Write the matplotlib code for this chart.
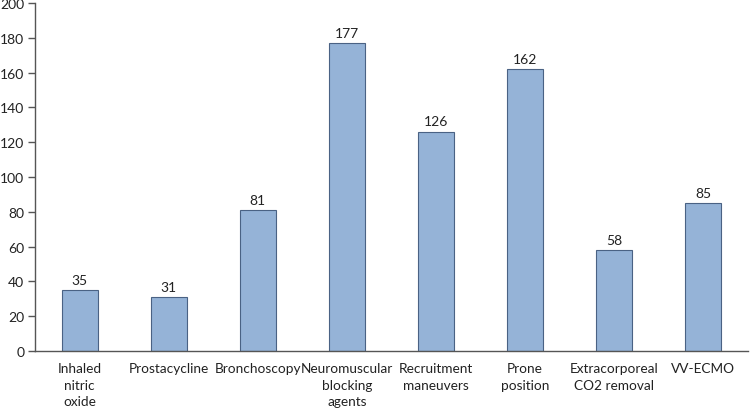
import matplotlib
matplotlib.use('Agg')
import matplotlib.pyplot as plt

categories = ['Inhaled\nnitric\noxide', 'Prostacycline', 'Bronchoscopy',
              'Neuromuscular\nblocking\nagents', 'Recruitment\nmaneuvers',
              'Prone\nposition', 'Extracorporeal\nCO2 removal', 'VV-ECMO']
counts = [35, 31, 81, 177, 126, 162, 58, 85]
y_ticks = [0, 20, 40, 60, 80, 100, 120, 140, 160, 180, 200]

plt.rcParams['font.family'] = ['Lato', 'DejaVu Sans']

fig = plt.figure(figsize=(7.5, 4.1), dpi=100)
ax = fig.add_axes([0.047, 0.1415, 0.950, 0.849])

x = range(len(categories))
bars = ax.bar(x, counts, width=0.4, color='#95B3D7', edgecolor='#4A6284', linewidth=0.8)

for xi, v in zip(x, counts):
    ax.text(xi, v + 2.5, str(v), ha='center', va='bottom', fontsize=10, color='#222222')

ax.set_xlim(-0.5, len(categories) - 0.5)
ax.set_ylim(0, 200)
ax.set_yticks(y_ticks)
ax.set_xticks(list(x))
ax.set_xticklabels(categories, fontsize=9.8, color='#222222', linespacing=1.45)
ax.tick_params(axis='x', length=0, pad=8)
ax.tick_params(axis='y', labelsize=10, labelcolor='#222222', length=5, width=1, color='#555555', pad=3)

for s in ['top', 'right']:
    ax.spines[s].set_visible(False)
ax.spines['left'].set_color('#555555')
ax.spines['bottom'].set_color('#555555')
ax.spines['left'].set_linewidth(1)
ax.spines['bottom'].set_linewidth(1)

plt.savefig('out.png', dpi=100)
